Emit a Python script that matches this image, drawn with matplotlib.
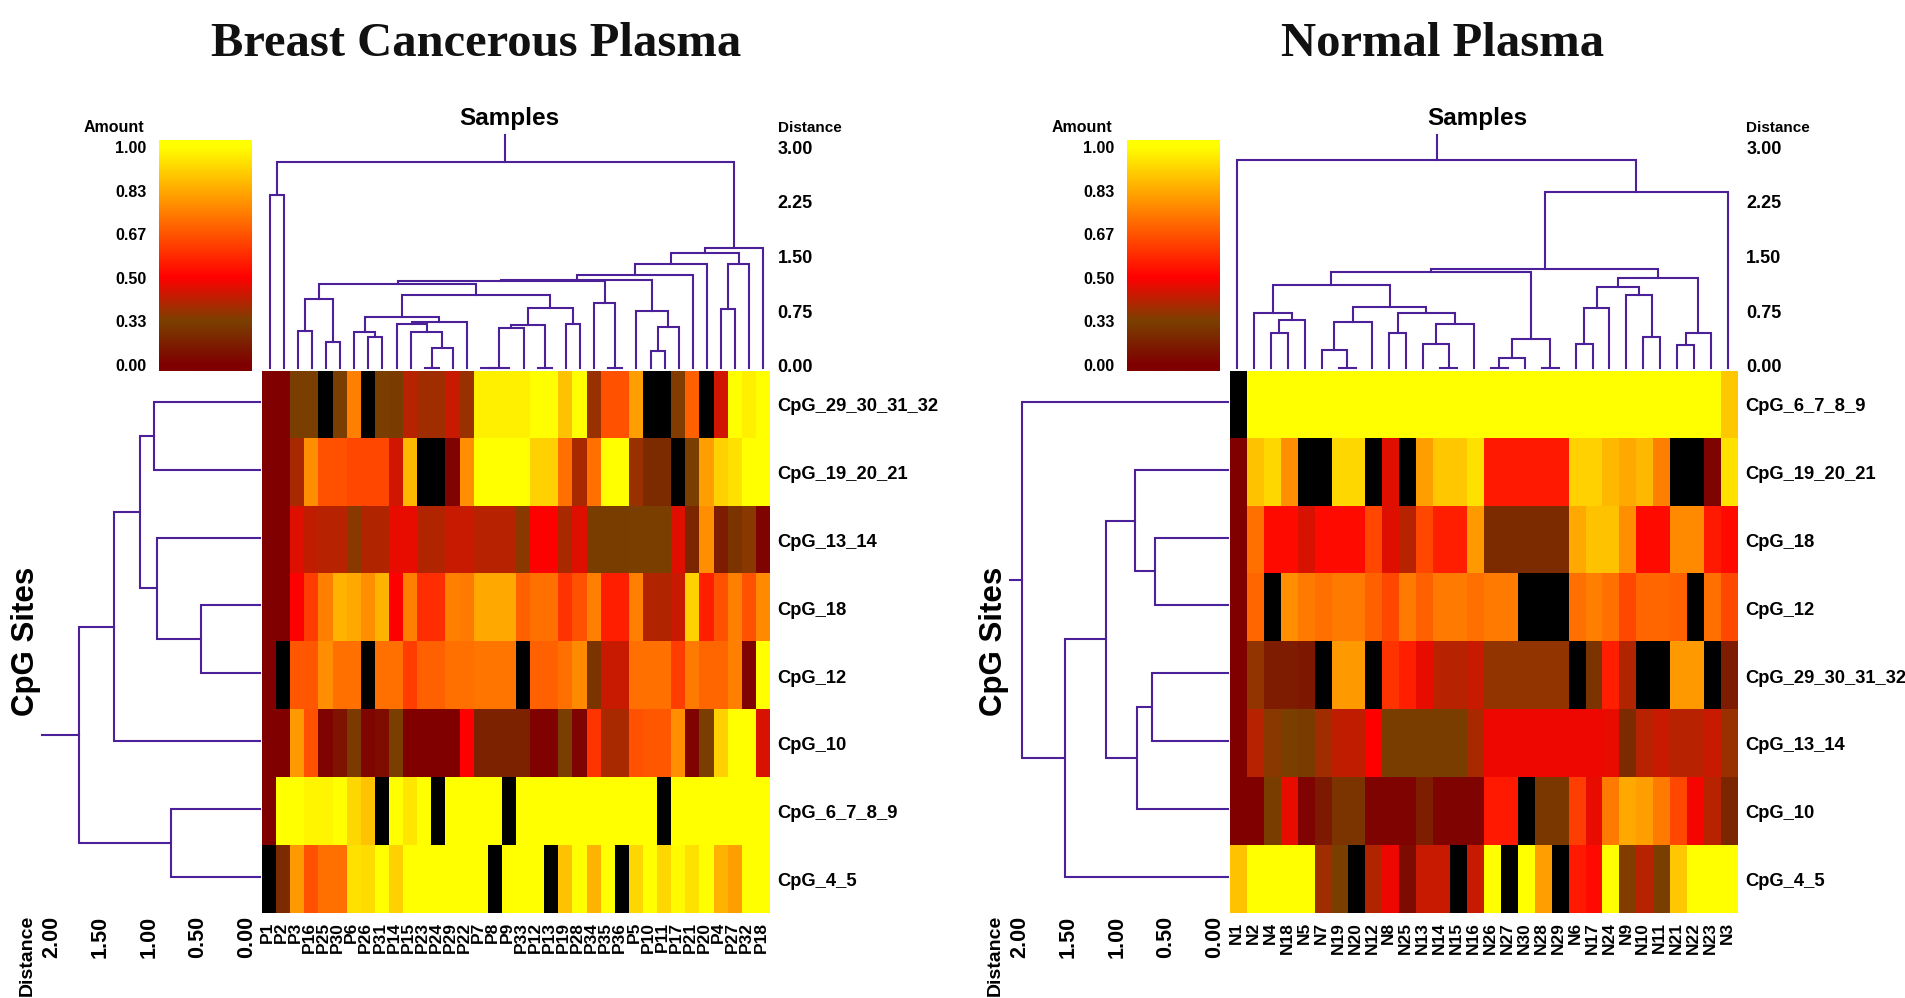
import numpy as np
import matplotlib
matplotlib.use('Agg')
import matplotlib.pyplot as plt
from matplotlib.colors import LinearSegmentedColormap
from matplotlib.transforms import ScaledTranslation

plt.rcParams['font.family'] = ['Liberation Sans', 'DejaVu Sans']
plt.rcParams['font.weight'] = 'bold'

W, H = 1906, 998
X = np.nan  # black cells, no value

# breast cancerous plasma
p_samples = ['P1', 'P2', 'P3', 'P16', 'P25', 'P30', 'P6', 'P26', 'P31', 'P14', 'P15', 'P23',
             'P24', 'P29', 'P22', 'P7', 'P8', 'P9', 'P33', 'P12', 'P13', 'P19', 'P28', 'P34',
             'P35', 'P36', 'P5', 'P10', 'P11', 'P17', 'P21', 'P20', 'P4', 'P27', 'P32', 'P18']
p_sites = ['CpG_29_30_31_32', 'CpG_19_20_21', 'CpG_13_14', 'CpG_18', 'CpG_12', 'CpG_10',
           'CpG_6_7_8_9', 'CpG_4_5']
p_values = [
    [0, 0, .33, .33, X, .33, .75, X, .33, .31, .41, .38, .38, .43, .37, .97, .97, .97, .97, 1, 1, .88,
     1, .37, .66, .66, .81, X, X, .34, .69, X, .44, 1, .97, 1],
    [0, 0, .39, .78, .66, .66, .64, .64, .64, .44, .86, X, X, .02, .78, 1, 1, 1, 1, .91, .91, .72,
     .39, .72, 1, 1, .37, .22, .22, X, .33, .81, .91, .94, 1, 1],
    [0, 0, .46, .42, .41, .41, .35, .40, .40, .47, .47, .40, .40, .43, .43, .41, .41, .41, .35, .5, .5, .39,
     .46, .32, .32, .32, .33, .33, .33, .46, .2, .78, .15, .27, .35, .02],
    [0, 0, .5, .62, .75, .85, .83, .78, .85, .5, .75, .59, .59, .75, .74, .83, .83, .83, .69, .72, .72, .6,
     .66, .75, .56, .56, .75, .40, .40, .43, .91, .56, .66, .75, .66, .77],
    [0, X, .67, .67, .78, .72, .72, X, .72, .72, .62, .69, .69, .72, .72, .73, .73, .73, X, .69, .69, .72,
     .77, .27, .43, .43, .72, .72, .72, .62, .74, .7, .7, .75, .02, 1],
    [0, 0, .8, .66, .02, .1, .3, .03, .07, .33, 0, 0, 0, 0, .5, .18, .18, .18, .18, .01, .01, .33,
     .02, .6, .39, .39, .66, .67, .67, .78, .02, .33, .91, 1, 1, .45],
    [0, 1, 1, .98, .98, 1, .92, .88, X, 1, .95, 1, X, 1, 1, 1, 1, X, 1, 1, 1, 1,
     1, 1, 1, 1, 1, 1, X, 1, 1, 1, 1, 1, 1, 1],
    [X, .22, .8, .66, .72, .72, .94, .93, 1, .91, 1, 1, 1, 1, 1, 1, X, 1, 1, 1, X, .88,
     1, .85, 1, X, .92, 1, .92, .99, .94, 1, .85, .81, 1, 1],
]
# trees are (height, left, right), plain ints are leaves
p_tree_a = (.945, (.51, 2, 3), (.36, 4, 5))
p_tree_b = (.70, (.50, 6, (.42, 7, 8)), (.63, (.61, 9, (.50, 10, (.28, (.0, 11, 12), 13))), 14))
p_tree_c = (.82, (.585, (.555, (.0, (.0, 15, 16), 17), 18), (.0, 19, 20)), (.60, 21, 22))
p_tree_d = (.886, 23, (.0, 24, 25))
p_tree_e = (.78, 26, (.557, (.237, 27, 28), 29))
p_tree_f = (1.2, (1.187, (1.146, p_tree_a, (.995, p_tree_b, p_tree_c)), p_tree_d), p_tree_e)
p_tree_g = (1.57, (1.43, (1.274, p_tree_f, 30), 31), (1.43, (.81, 32, 33), 34))
p_col_tree = (2.83, (2.37, 0, 1), (1.65, p_tree_g, 35))
p_row_tree = (1.844, (1.493, (1.224, (1.078, 0, 1), (1.054, 2, (.605, 3, 4))), 5), (.908, 6, 7))
p_row_stem = 2.224

# normal plasma
n_samples = ['N1', 'N2', 'N4', 'N18', 'N5', 'N7', 'N19', 'N20', 'N12', 'N8', 'N25', 'N13', 'N14',
             'N15', 'N16', 'N26', 'N27', 'N30', 'N28', 'N29', 'N6', 'N17', 'N24', 'N9', 'N10',
             'N11', 'N21', 'N22', 'N23', 'N3']
n_sites = ['CpG_6_7_8_9', 'CpG_19_20_21', 'CpG_18', 'CpG_12', 'CpG_29_30_31_32', 'CpG_13_14',
           'CpG_10', 'CpG_4_5']
n_values = [
    [X, 1, 1, 1, 1, 1, 1, 1, 1, 1, 1, 1, 1, 1, 1, 1, 1, 1, 1, 1, 1, 1, 1, 1, 1, 1, 1, 1, 1, .89],
    [0, .88, .92, .78, X, X, .92, .92, X, .46, X, .81, .89, .89, .94, .55, .55, .55, .55, .55,
     .91, .91, .86, .83, .86, .75, X, X, .02, .94],
    [0, .72, .52, .52, .45, .52, .52, .52, .64, .46, .41, .64, .56, .56, .8, .22, .22, .22, .22, .22,
     .83, .88, .88, .78, .52, .52, .77, .77, .55, .52],
    [0, .7, X, .78, .74, .72, .74, .74, .69, .64, .74, .69, .74, .74, .72, .74, .74, X, X, X,
     .72, .75, .72, .64, .7, .7, .69, X, .72, .64],
    [0, .36, .15, .15, .12, X, .8, .8, X, .6, .56, .47, .41, .41, .43, .36, .36, .36, .36, .36,
     X, .27, .56, .40, X, X, .8, .8, X, .15],
    [0, .41, .35, .33, .31, .38, .42, .42, .5, .32, .32, .32, .32, .32, .39, .48, .48, .48, .48, .48,
     .48, .48, .47, .22, .41, .43, .41, .41, .43, .37],
    [0, 0, .32, .47, .02, .13, .27, .27, .02, .02, .02, .16, .02, .02, .02, .55, .55, X, .29, .29,
     .62, .47, .74, .83, .81, .74, .64, .49, .41, .2],
    [.88, 1, 1, 1, 1, .38, .33, X, .4, .48, .06, .43, .43, X, .43, 1, X, 1, .81, X,
     .55, .52, 1, .34, .41, .33, .89, 1, 1, 1],
]
n_tree_a = (.75, 1, (.657, (.484, 2, 3), 4))
n_tree_b = (.83, (.63, (.247, 5, (.0, 6, 7)), 8), (.753, (.48, 9, 10), (.6, (.333, 11, (.0, 12, 13)), 14)))
n_tree_c = (.40, (.14, (.0, 15, 16), 17), (.0, 18, 19))
n_tree_d = (1.105, (.817, (.333, 20, 21), 22), (.995, 23, (.42, 24, 25)))
n_tree_e = (.484, (.315, 26, 27), 28)
n_tree_f = (1.356, (1.31, (1.14, n_tree_a, n_tree_b), n_tree_c), (1.233, n_tree_d, n_tree_e))
n_col_tree = (2.85, 0, (2.41, n_tree_f, 29))
n_row_tree = (2.10, 0, (1.66, (1.245, (.952, 1, (.748, 2, 3)), (.929, (.776, 4, 5), 6)), 7))
n_row_stem = 2.228

dist_top = [0, .75, 1.5, 2.25, 3]
dist_left = [0, .5, 1, 1.5, 2]
amount_labels = ['0.00', '0.33', '0.50', '0.67', '0.83', '1.00']
amount_stops = [0, .33, .5, 1]

cmap = LinearSegmentedColormap.from_list(
    'heat', [(0, '#800000'), (.33, '#7a4000'), (.5, '#ff0000'), (1, '#ffff00')], N=512)
cmap.set_bad('black')
tree_color = '#4b2099'


def px_axes(fig, x0, y0, x1, y1):
    ax = fig.add_axes([x0 / W, 1 - y1 / H, (x1 - x0) / W, (y1 - y0) / H])
    return ax


def put(fig, x, y, s, **kw):
    kw.setdefault('ha', 'center')
    kw.setdefault('va', 'center')
    fig.text(x / W, 1 - y / H, s, **kw)


def draw_tree(ax, node, vertical=True):
    # returns (position, height) of the node, draws as it goes
    if not isinstance(node, tuple):
        return node + .5, 0
    h, a, b = node
    pa, ha = draw_tree(ax, a, vertical)
    pb, hb = draw_tree(ax, b, vertical)
    pos = [pa, pa, pb, pb]
    hs = [ha, h, h, hb]
    if vertical:
        ax.plot(pos, hs, color=tree_color, lw=1.5, solid_joinstyle='miter', clip_on=False)
    else:
        ax.plot(hs, pos, color=tree_color, lw=1.5, solid_joinstyle='miter', clip_on=False)
    return (pa + pb) / 2, h


def panel(fig, dx, title, title_x, values, samples, sites, col_tree, row_tree, row_stem, top_shift):
    values = np.array(values, dtype=float)
    nrow, ncol = values.shape
    left, right, top, bottom = 262.5 + dx, 770.5 + dx, 371, 913.5

    # heatmap
    ax = px_axes(fig, left, top, right, bottom)
    ax.imshow(np.ma.masked_invalid(values), cmap=cmap, vmin=0, vmax=1, aspect='auto',
              interpolation='nearest', extent=(0, ncol, nrow, 0))
    ax.set_xticks(np.arange(ncol) + .5 - 2.5 / ((right - left) / ncol), samples, rotation=90,
                  fontsize=12.5)
    ax.set_yticks(np.arange(nrow) + .5, sites, fontsize=13.2)
    ax.tick_params(axis='y', length=0, pad=5)
    ax.tick_params(axis='x', length=0, pad=6)
    ax.yaxis.tick_right()
    for s in ax.spines.values():
        s.set_visible(False)

    # sample dendrogram
    at = px_axes(fig, left + top_shift, 134.6, right + top_shift, 368)
    at.set_xlim(0, ncol)
    at.set_ylim(0, 3.2)
    root_x, root_h = draw_tree(at, col_tree, True)
    at.plot([root_x, root_x], [root_h, 3.2], color=tree_color, lw=1.5, clip_on=False)
    at.set_xticks([])
    at.yaxis.tick_right()
    at.set_yticks(dist_top, ['%.2f' % v for v in dist_top], fontsize=13)
    at.tick_params(length=0, pad=5 - top_shift)
    for t in at.get_yticklabels():
        t.set_transform(t.get_transform() + ScaledTranslation(0, 1.5 / 72, fig.dpi_scale_trans))
    for s in at.spines.values():
        s.set_visible(False)
    at.patch.set_alpha(0)

    # site dendrogram
    al = px_axes(fig, 31 + dx, top - 3, 260 + dx, bottom - 3)
    al.set_ylim(nrow, 0)
    al.set_xlim(229 / 98, 0)
    root_y, root_h = draw_tree(al, row_tree, False)
    al.plot([root_h, row_stem], [root_y, root_y], color=tree_color, lw=1.5, clip_on=False)
    al.set_xticks([])
    al.set_yticks([])
    for s in al.spines.values():
        s.set_visible(False)
    al.patch.set_alpha(0)

    # colour key, labels sit evenly spaced, not by value
    ac = px_axes(fig, 159 + dx, 140, 252 + dx, 371)
    pos = np.linspace(-.14, 5.16, 300)
    grad = np.interp(pos, [0, 1, 2, 5], amount_stops).reshape(-1, 1)
    ac.imshow(grad, cmap=cmap, vmin=0, vmax=1, aspect='auto', origin='lower',
              extent=(0, 1, -.14, 5.16))
    ac.set_xticks([])
    ac.set_yticks(range(6), amount_labels, fontsize=11.5)
    ac.tick_params(length=0, pad=9)
    for s in ac.spines.values():
        s.set_visible(False)

    put(fig, 114 + dx, 127.5, 'Amount', fontsize=11.5)
    put(fig, 509.5 + dx, 118.5, 'Samples', fontsize=17.5)
    put(fig, 778 + dx, 128, 'Distance', ha='left', fontsize=11)
    put(fig, 26 + dx, 641, 'CpG Sites', rotation=90, fontsize=22.5)
    put(fig, 27 + dx, 955, 'Distance', rotation=90, fontsize=14)
    for v in dist_left:
        put(fig, 247 - 97.8 * v + dx, 937, '%.2f' % v, rotation=90, fontsize=15.5)
    put(fig, title_x, 44, title, family=['Liberation Serif', 'DejaVu Serif'], fontsize=35,
        color='#111111')


fig = plt.figure(figsize=(W / 100, H / 100), dpi=100, facecolor='white')
panel(fig, 0, 'Breast Cancerous Plasma', 476.5, p_values, p_samples, p_sites,
      p_col_tree, p_row_tree, p_row_stem, 0)
panel(fig, 968, 'Normal Plasma', 1443, n_values, n_samples, n_sites,
      n_col_tree, n_row_tree, n_row_stem, -2)
fig.savefig('out.png', dpi=100)
